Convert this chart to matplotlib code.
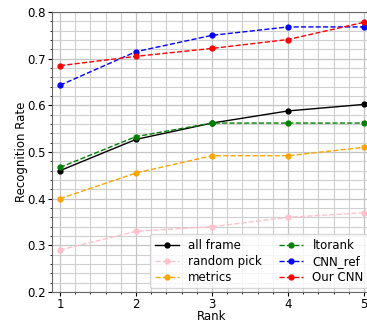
import matplotlib
matplotlib.use("Agg")
import matplotlib.pyplot as plt
from matplotlib.ticker import MultipleLocator

ranks = [1, 2, 3, 4, 5]
all_frame = [0.460, 0.527, 0.562, 0.588, 0.602]
random_pick = [0.290, 0.330, 0.340, 0.360, 0.370]
metrics = [0.400, 0.455, 0.492, 0.492, 0.510]
ltorank = [0.467, 0.533, 0.562, 0.562, 0.562]
cnn_ref = [0.643, 0.715, 0.750, 0.768, 0.768]
our_cnn = [0.685, 0.705, 0.722, 0.741, 0.778]

fig = plt.figure(figsize=(3.67, 3.22), dpi=100)
ax = fig.add_axes([52 / 367, 30 / 322, 320 / 367, 280 / 322])

ms = 3.5
lw = 1.0
ax.plot(ranks, all_frame, '-', color='black', marker='o', ms=ms, lw=lw, label='all frame')
ax.plot(ranks, random_pick, '--', color='pink', marker='o', ms=ms, lw=lw, label='random pick')
ax.plot(ranks, metrics, '--', color='orange', marker='o', ms=ms, lw=lw, label='metrics')
ax.plot(ranks, ltorank, '--', color='green', marker='o', ms=ms, lw=lw, label='ltorank')
ax.plot(ranks, cnn_ref, '--', color='blue', marker='o', ms=ms, lw=lw, label='CNN_ref')
ax.plot(ranks, our_cnn, '--', color='red', marker='o', ms=ms, lw=lw, label='Our CNN')

ax.set_xlim(0.895, 5.105)
ax.set_ylim(0.2, 0.8)
ax.xaxis.set_major_locator(MultipleLocator(1))
ax.xaxis.set_minor_locator(MultipleLocator(0.2))
ax.yaxis.set_major_locator(MultipleLocator(0.1))
ax.yaxis.set_minor_locator(MultipleLocator(0.02))
ax.grid(which='major', color='#c4c4c4', lw=0.9)
ax.grid(which='minor', color='#cfcfcf', lw=0.8)
ax.set_axisbelow(True)
ax.tick_params(which='major', labelsize=8.5, length=3, pad=1.5)
ax.tick_params(which='minor', length=1.5)
ax.set_xlabel('Rank', fontsize=8.5, labelpad=-0.8)
ax.set_ylabel('Recognition Rate', fontsize=8.5, labelpad=-0.5)
for s in ['left', 'bottom', 'top', 'right']:
    ax.spines[s].set_color('#666666')

ax.legend(loc='lower right', ncol=2, fontsize=8.5, framealpha=0.8,
          handlelength=2, columnspacing=1.5, borderaxespad=0.3,
          labelspacing=0.25)

fig.savefig('out.png', dpi=100)
